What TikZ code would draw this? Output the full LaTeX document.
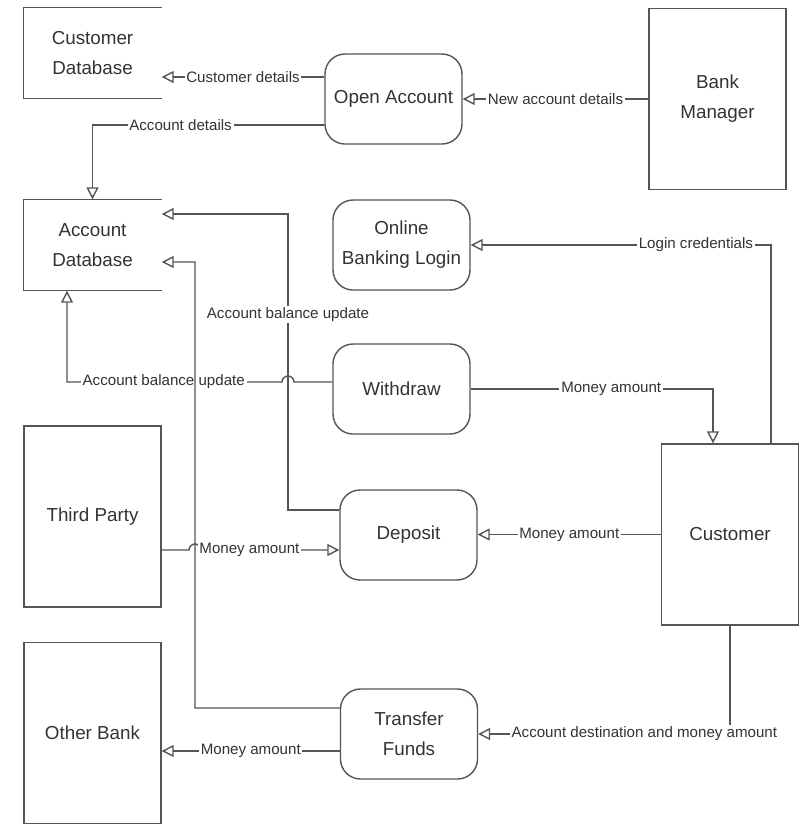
\documentclass[tikz,border=0pt]{standalone}
\usepackage{fontspec}
\setmainfont{Liberation Sans}
\usetikzlibrary{positioning,arrows.meta,calc}
\definecolor{ink}{HTML}{333333}
\definecolor{edge}{HTML}{555555}

\begin{document}
\begin{tikzpicture}[
  font=\fontsize{10.7}{17}\selectfont,
  box/.style={draw=edge,line width=0.8pt,align=center,text=ink,minimum width=2.74cm,minimum height=1.8cm,inner sep=2pt},
  proc/.style={box,rounded corners=0.4cm},
  ent/.style={box,minimum height=3.62cm},
  store/.style={box,draw=none},
  side/.style={draw=edge,line width=0.8pt},
  arr/.style={-{Triangle[open,length=2.4mm,width=2.4mm]},line width=0.8pt,draw=edge},
  lbl/.style={font=\fontsize{8.6}{10}\selectfont,text=ink,fill=white,inner sep=1pt}]
  \useasboundingbox (0,0) rectangle (16,-16.5);
  \node[store] (cdb) at (1.85,-1.06) {Customer\\Database};
  \node[store] (adb) at (1.85,-4.9) {Account\\Database};
  \node[proc] (open) at (7.87,-1.98) {Open Account};
  \node[ent] (bank) at (14.35,-1.98) {Bank\\Manager};
  \node[proc] (login) at (8.03,-4.9) {Online\\Banking Login};
  \node[proc] (wd) at (8.03,-7.78) {Withdraw};
  \node[proc] (dep) at (8.17,-10.7) {Deposit};
  \node[proc] (tf) at (8.18,-14.68) {Transfer\\Funds};
  \node[ent] (tp) at (1.85,-10.33) {Third Party};
  \node[ent] (ob) at (1.85,-14.66) {Other Bank};
  \node[ent] (cust) at (14.6,-10.69) {Customer};

  % data stores are open on the right
  \draw[side] (cdb.north east) -- (cdb.north west) -- (cdb.south west) -- (cdb.south east);
  \draw[side] (adb.north east) -- (adb.north west) -- (adb.south west) -- (adb.south east);

  \draw[arr] ([yshift=0.44cm]open.west) -- node[lbl]{Customer details} ([yshift=0.44cm]open.west -| cdb.east);
  \draw[arr] ([yshift=-0.52cm]open.west) -| node[lbl,pos=0.31]{Account details} (adb.north);
  \draw[arr] (bank.west) -- node[lbl]{New account details} (open.east);
  \draw[arr] ([xshift=0.82cm]cust.north) |- node[lbl,pos=0.625]{Login credentials} (login.east);
  \draw[arr] ([yshift=0.14cm]wd.west) -- (5.88,-7.64) arc[start angle=0,end angle=180,radius=0.12]
    -- node[lbl,pos=0.55]{Account balance update} (1.34,-7.64) -- ([xshift=-0.51cm]adb.south);
  \draw[arr] ([yshift=0.5cm]dep.west) -| node[lbl,pos=0.83]{Account balance update} (5.76,-4.28) -- ([yshift=0.62cm]adb.east);
  \draw[arr] (wd.east) -| node[lbl,pos=0.29]{Money amount} ([xshift=-0.34cm]cust.north);
  \draw[arr] (cust.west) -- node[lbl]{Money amount} (cust.west -| dep.east);
  \draw[arr] ([yshift=-0.67cm]tp.east) -- (3.78,-11) arc[start angle=180,end angle=0,radius=0.12]
    -- node[lbl,pos=0.35]{Money amount} ([yshift=-0.3cm]dep.west);
  \draw[arr] ([yshift=0.52cm]tf.west) -| (3.9,-5.24) -- ([yshift=-0.34cm]adb.east);
  \draw[arr] ([yshift=-0.34cm]tf.west) -- node[lbl]{Money amount} ([yshift=-0.34cm]tf.west -| ob.east);
  \draw[arr] (cust.south) |- node[lbl,pos=0.67]{Account destination and money amount} (tf.east);
\end{tikzpicture}
\end{document}
